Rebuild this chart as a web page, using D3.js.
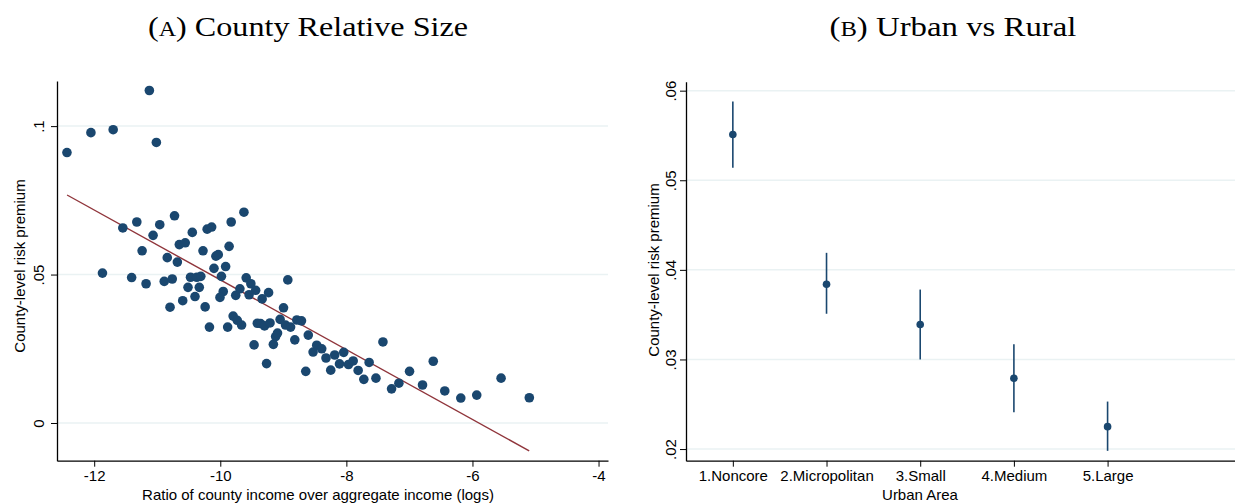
<!DOCTYPE html>
<html>
<head>
<meta charset="utf-8">
<script src="https://cdn.jsdelivr.net/npm/d3@7"></script>
<style>
  body { margin: 0; background: #fff; }
  .tick text { font-family: "Liberation Sans", Arial, sans-serif; font-size: 15px; fill: #000; }
  .axlabel { font-family: "Liberation Sans", Arial, sans-serif; font-size: 15px; fill: #000; }
  .title { font-family: "Liberation Serif", "Times New Roman", serif; font-size: 28px; fill: #000; }
</style>
</head>
<body>
<script>
// panel A: binned scatter, x = log income ratio, y = risk premium
var incomeRatio = [-12.432, -12.052, -11.699, -11.125, -11.014, -11.546, -11.324, -10.960, -10.726, -11.066,
  -11.240, -10.841, -10.681, -10.650, -10.556, -10.444, -10.208, -10.137, -9.827, -9.625,
  -10.274, -10.069, -10.032, -9.860, -10.100, -9.915, -11.869, -11.406, -11.177, -10.889,
  -10.762, -10.472, -10.373, -10.309, -9.982, -10.512, -10.333, -10.401, -10.596, -10.797,
  -10.240, -10.172, -9.883, -9.953, -10.005, -9.755, -9.689, -9.589, -9.515, -9.439,
  -9.543, -9.336, -9.234, -8.929, -9.796, -9.731, -9.662, -9.412, -9.361, -9.298,
  -9.211, -9.464, -9.266, -9.158, -9.122, -9.092, -9.051, -8.997, -8.965, -8.885,
  -8.818, -8.786, -8.712, -8.604, -8.644, -8.528, -8.470, -8.391, -8.323, -8.248,
  -8.185, -8.109, -8.042, -7.966, -7.892, -7.813, -7.723, -7.639, -7.531, -7.420,
  -7.283, -7.167, -6.998, -6.792, -6.622, -6.439, -6.185, -5.932, -5.546, -5.098];
var riskPremium = [0.0911, 0.0978, 0.0988, 0.1120, 0.0945, 0.0657, 0.0677, 0.0668, 0.0698, 0.0632,
  0.0580, 0.0557, 0.0542, 0.0601, 0.0607, 0.0642, 0.0653, 0.0660, 0.0677, 0.0710,
  0.0580, 0.0562, 0.0567, 0.0595, 0.0521, 0.0527, 0.0505, 0.0490, 0.0469, 0.0477,
  0.0485, 0.0491, 0.0491, 0.0494, 0.0494, 0.0457, 0.0457, 0.0426, 0.0412, 0.0390,
  0.0391, 0.0323, 0.0323, 0.0443, 0.0423, 0.0430, 0.0452, 0.0489, 0.0469, 0.0447,
  0.0432, 0.0418, 0.0439, 0.0482, 0.0360, 0.0346, 0.0330, 0.0336, 0.0335, 0.0327,
  0.0337, 0.0263, 0.0200, 0.0265, 0.0291, 0.0303, 0.0349, 0.0388, 0.0330, 0.0323,
  0.0280, 0.0347, 0.0344, 0.0296, 0.0174, 0.0239, 0.0262, 0.0250, 0.0219, 0.0178,
  0.0229, 0.0199, 0.0238, 0.0197, 0.0209, 0.0177, 0.0147, 0.0204, 0.0151, 0.0273,
  0.0115, 0.0134, 0.0174, 0.0128, 0.0208, 0.0108, 0.0084, 0.0094, 0.0151, 0.0085];
// fitted line endpoints
var fitX = [-12.43, -5.10];
var fitY = [0.0768, -0.0094];
var xTicksA = [-12, -10, -8, -6, -4];
var yTicksA = [0, 0.05, 0.1];
var yTickLabelsA = ["0", ".05", ".1"];

// panel B: point estimates with confidence intervals
var areaNames = ["1.Noncore", "2.Micropolitan", "3.Small", "4.Medium", "5.Large"];
var areaEst = [0.0551, 0.0384, 0.0339, 0.0279, 0.0225];
var areaLow = [0.0514, 0.0351, 0.0300, 0.0241, 0.0198];
var areaHigh = [0.0588, 0.0419, 0.0378, 0.0317, 0.0253];
var yTicksB = [0.02, 0.03, 0.04, 0.05, 0.06];
var yTickLabelsB = [".02", ".03", ".04", ".05", ".06"];

var navy = "#1a476f", maroon = "#90353b", grid = "#eaf2f3";

var svg = d3.select("body").append("svg")
    .attr("width", 1235)
    .attr("height", 503);

// ---------- panel A ----------
var xA = d3.scaleLinear().domain([-12.59, -3.85]).range([57, 608]);
var yA = d3.scaleLinear().domain([-0.0127, 0.1152]).range([460.7, 81]);

svg.append("g").selectAll("line")
    .data(yTicksA).enter().append("line")
    .attr("x1", 57).attr("x2", 608)
    .attr("y1", function(d) { return yA(d); })
    .attr("y2", function(d) { return yA(d); })
    .attr("stroke", grid).attr("stroke-width", 1.5);

svg.append("g")
    .attr("transform", "translate(0,460.7)")
    .call(d3.axisBottom(xA).tickValues(xTicksA).tickSize(6).tickSizeOuter(0).tickFormat(function(d) { return d; }))
    .call(function(g) { g.selectAll(".tick text").attr("y", 10); });

var axA = svg.append("g")
    .attr("transform", "translate(57,0)")
    .call(d3.axisLeft(yA).tickValues(yTicksA).tickSize(6).tickSizeOuter(0)
      .tickFormat(function(d, i) { return yTickLabelsA[i]; }));
axA.selectAll(".tick text")
    .attr("transform", "rotate(-90)")
    .attr("x", 0).attr("y", -13.5).attr("dy", 0)
    .attr("text-anchor", "middle");

svg.append("path")
    .datum(d3.zip(fitX, fitY))
    .attr("fill", "none")
    .attr("stroke", maroon)
    .attr("stroke-width", 1.4)
    .attr("d", d3.line().x(function(d) { return xA(d[0]); }).y(function(d) { return yA(d[1]); }));

svg.append("g").selectAll("circle")
    .data(d3.zip(incomeRatio, riskPremium)).enter().append("circle")
    .attr("cx", function(d) { return xA(d[0]); })
    .attr("cy", function(d) { return yA(d[1]); })
    .attr("r", 4.8)
    .attr("fill", navy);

svg.append("text").attr("class", "axlabel")
    .attr("x", 318).attr("y", 500).attr("text-anchor", "middle")
    .text("Ratio of county income over aggregate income (logs)");
svg.append("text").attr("class", "axlabel")
    .attr("transform", "translate(25,266) rotate(-90)").attr("text-anchor", "middle")
    .text("County-level risk premium");

var tA = svg.append("text").attr("class", "title").attr("x", 308).attr("y", 36).attr("text-anchor", "middle")
    .attr("textLength", 320).attr("lengthAdjust", "spacingAndGlyphs");
tA.append("tspan").text("(");
tA.append("tspan").style("font-size", "21px").text("A");
tA.append("tspan").text(") County Relative Size");

// ---------- panel B ----------
var xB = d3.scaleLinear().domain([0.5, 6.36]).range([686, 1235]);
var yB = d3.scaleLinear().domain([0.0187, 0.0610]).range([460.7, 81.7]);

svg.append("g").selectAll("line")
    .data(yTicksB).enter().append("line")
    .attr("x1", 686).attr("x2", 1235)
    .attr("y1", function(d) { return yB(d); })
    .attr("y2", function(d) { return yB(d); })
    .attr("stroke", grid).attr("stroke-width", 1.5);

svg.append("g")
    .attr("transform", "translate(0,460.7)")
    .call(d3.axisBottom(xB).tickValues([1, 2, 3, 4, 5]).tickSize(6).tickSizeOuter(0)
      .tickFormat(function(d) { return areaNames[d - 1]; }))
    .call(function(g) { g.selectAll(".tick text").attr("y", 10); });

var axB = svg.append("g")
    .attr("transform", "translate(686,0)")
    .call(d3.axisLeft(yB).tickValues(yTicksB).tickSize(6).tickSizeOuter(0)
      .tickFormat(function(d, i) { return yTickLabelsB[i]; }));
axB.selectAll(".tick text")
    .attr("transform", "rotate(-90)")
    .attr("x", 0).attr("y", -10.5).attr("dy", 0)
    .attr("text-anchor", "middle");

var est = areaNames.map(function(n, i) { return {k: i + 1, v: areaEst[i], lo: areaLow[i], hi: areaHigh[i]}; });

svg.append("g").selectAll("line")
    .data(est).enter().append("line")
    .attr("x1", function(d) { return xB(d.k); })
    .attr("x2", function(d) { return xB(d.k); })
    .attr("y1", function(d) { return yB(d.lo); })
    .attr("y2", function(d) { return yB(d.hi); })
    .attr("stroke", navy).attr("stroke-width", 1.6);

svg.append("g").selectAll("circle")
    .data(est).enter().append("circle")
    .attr("cx", function(d) { return xB(d.k); })
    .attr("cy", function(d) { return yB(d.v); })
    .attr("r", 3.8)
    .attr("fill", navy);

svg.append("text").attr("class", "axlabel")
    .attr("x", 920).attr("y", 500).attr("text-anchor", "middle")
    .text("Urban Area");
svg.append("text").attr("class", "axlabel")
    .attr("transform", "translate(659,270) rotate(-90)").attr("text-anchor", "middle")
    .text("County-level risk premium");

var tB = svg.append("text").attr("class", "title").attr("x", 953).attr("y", 36).attr("text-anchor", "middle")
    .attr("textLength", 247).attr("lengthAdjust", "spacingAndGlyphs");
tB.append("tspan").text("(");
tB.append("tspan").style("font-size", "21px").text("B");
tB.append("tspan").text(") Urban vs Rural");

svg.selectAll(".domain").attr("stroke", "#000").attr("stroke-width", 1.3);
svg.selectAll(".tick line").attr("stroke", "#000");
</script>
</body>
</html>
